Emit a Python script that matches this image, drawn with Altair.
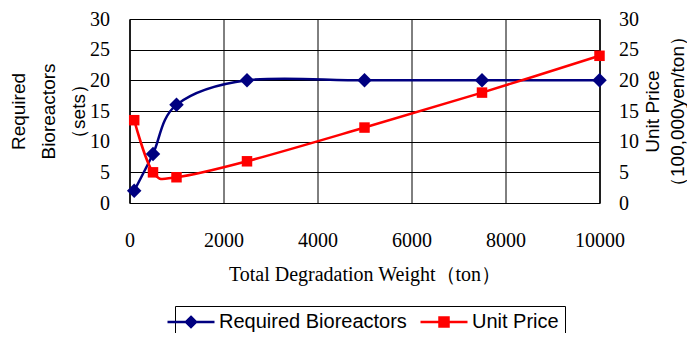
import altair as alt
import pandas as pd

weights = [100, 500, 1000, 2500, 5000, 7500, 10000]
bioreactors = [2, 8, 16, 20, 20, 20, 20]
unit_price = [13.5, 5.0, 4.2, 6.8, 12.3, 18.0, 24.0]
series_names = ["Required Bioreactors", "Unit Price"]
series_colors = ["#000080", "#FF0000"]
x_ticks = [0, 2000, 4000, 6000, 8000, 10000]
y_ticks = [0, 5, 10, 15, 20, 25, 30]

rows = []
for w, v in zip(weights, bioreactors):
    rows.append({"weight": w, "value": v, "series": series_names[0]})
for w, v in zip(weights, unit_price):
    rows.append({"weight": w, "value": v, "series": series_names[1]})
df = pd.DataFrame(rows)

SERIF = "Liberation Serif"
SANS = "Liberation Sans"

x_enc = alt.X(
    "weight:Q",
    scale=alt.Scale(domain=[0, 10000], nice=False),
    axis=alt.Axis(
        values=x_ticks, format="d", title="Total Degradation Weight（ton）", grid=True,
        gridColor="black", gridWidth=1, domainColor="black", ticks=False, tickSize=0,
        labelFont=SERIF, labelFontSize=20, labelColor="black", labelBaseline="middle",
        labelFlush=False, labelPadding=37, titleFont=SERIF, titleFontSize=20,
        titleFontWeight="normal", titleColor="black", titleBaseline="middle", titleY=71,
    ),
)
y_scale = alt.Scale(domain=[0, 30], nice=False)

left_axis = alt.Axis(
    values=y_ticks, orient="left", grid=True, gridColor="black", gridWidth=1,
    domainColor="black", ticks=False, tickSize=0, labelFont=SERIF, labelFontSize=20,
    labelColor="black", labelPadding=20,
    title=["Required", "Bioreactors", "（sets）"], titleFont=SANS, titleFontSize=19,
    titleFontWeight="normal", titleColor="black", titleAngle=270, titleX=-111, titleY=92,
    titleBaseline="middle", titleAlign="center", titleLineHeight=30,
)
right_axis = alt.Axis(
    values=y_ticks, orient="right", grid=False, domainColor="black", ticks=False,
    tickSize=0, labelFont=SERIF, labelFontSize=20, labelColor="black", labelPadding=19,
    title=["Unit Price", "（100,000yen/ton）"], titleFont=SANS, titleFontSize=19,
    titleFontWeight="normal", titleColor="black", titleAngle=270, titleX=53, titleY=92,
    titleBaseline="middle", titleAlign="center", titleLineHeight=25,
)

base = alt.Chart(df)
blue = base.transform_filter(alt.datum.series == series_names[0])
red = base.transform_filter(alt.datum.series == series_names[1])

blue_line = blue.mark_line(interpolate="cardinal", color=series_colors[0], strokeWidth=2.5).encode(
    x=x_enc, y=alt.Y("value:Q", scale=y_scale, axis=left_axis))
red_line = red.mark_line(interpolate="cardinal", color=series_colors[1], strokeWidth=2.5).encode(
    x=x_enc, y=alt.Y("value:Q", scale=y_scale, axis=right_axis))
blue_pts = blue.mark_point(shape="diamond", filled=True, size=210, opacity=1, color=series_colors[0]).encode(
    x=x_enc, y=alt.Y("value:Q", scale=y_scale, axis=None))
red_pts = red.mark_point(shape="square", filled=True, size=110, opacity=1, color=series_colors[1]).encode(
    x=x_enc, y=alt.Y("value:Q", scale=y_scale, axis=None))

diamond_path = "M-6.1,0M-4.7,0L4.7,0M0,-1L1,0L0,1L-1,0Z"
square_path = "M-6.1,0M-4.7,0L4.7,0M-0.9,-0.9L0.9,-0.9L0.9,0.9L-0.9,0.9Z"

leg = dict(
    title=None, orient="none", legendX=45.5, legendY=287, direction="horizontal",
    strokeColor="black", fillColor="white", padding=6, labelFont=SANS, labelFontSize=20,
    labelColor="black", labelLimit=400, symbolSize=100, symbolStrokeWidth=2.5, labelOffset=18,
    columnPadding=1, symbolOpacity=1,
)
color_scale = alt.Scale(domain=series_names, range=series_colors)
legend_layer = base.transform_filter("false").mark_point(filled=True, opacity=1).encode(
    x=x_enc,
    y=alt.Y("value:Q", scale=y_scale, axis=None),
    fill=alt.Fill("series:N", scale=color_scale, legend=alt.Legend(**leg)),
    stroke=alt.Stroke("series:N", scale=color_scale, legend=alt.Legend(**leg)),
    shape=alt.Shape("series:N", scale=alt.Scale(domain=series_names, range=[diamond_path, square_path]),
                    legend=alt.Legend(**leg)),
)

chart = alt.layer(blue_line, red_line, blue_pts, red_pts, legend_layer).resolve_scale(
    y="independent"
).properties(
    width=470, height=184,
    autosize=alt.AutoSizeParams(type="none"),
    padding={"left": 121.5, "top": 11, "right": 87.5, "bottom": 130},
    background="white",
).configure_view(stroke="black", strokeWidth=1)

chart.save("out.html", embed_options={"renderer": "svg", "actions": False})
